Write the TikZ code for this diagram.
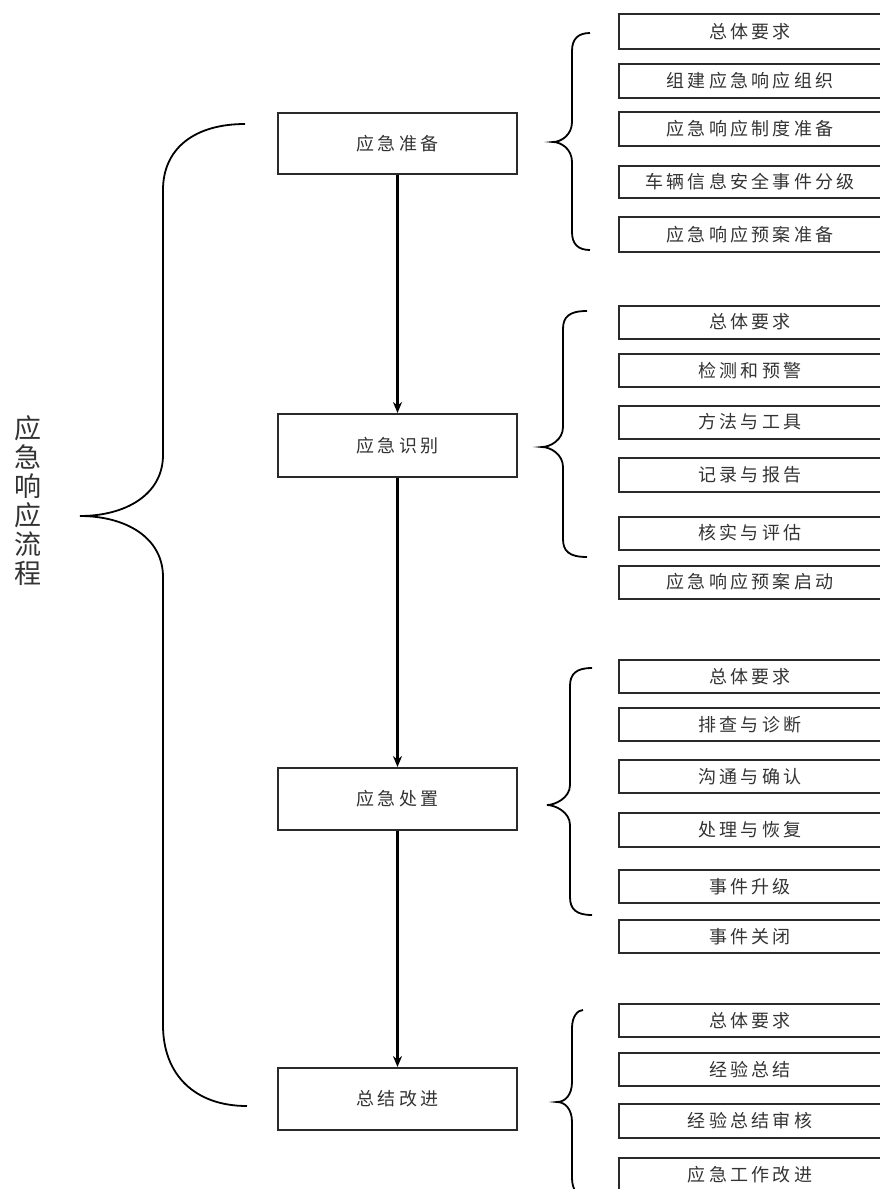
\documentclass[tikz,border=0pt]{standalone}
\usepackage{fontspec}
\usetikzlibrary{arrows.meta}
\newfontfamily\cjk[LetterSpace=18]{Noto Sans CJK SC}
\newfontfamily\cjkbig{Noto Sans CJK SC}
\definecolor{boxline}{HTML}{2A2A2A}
\definecolor{txt}{HTML}{333333}
% small brace: right x, spine x, tip x, top y, tip y, bottom y
\newcommand\mybrace[6]{%
  \draw[bracestyle] (#1,#4) .. controls ({#2+6},#4) and (#2,{#4+6}) .. (#2,{#4+18})
    -- (#2,{#5-20}) .. controls (#2,{#5-7}) and ({#3+8},#5) .. (#3,#5)
    .. controls ({#3+8},#5) and (#2,{#5+7}) .. (#2,{#5+20})
    -- (#2,{#6-18}) .. controls (#2,{#6-6}) and ({#2+6},#6) .. (#1,#6);}
\tikzset{
  x=1pt, y=-1pt,
  mainbox/.style={draw=boxline, line width=2pt, minimum width=239pt, minimum height=61pt,
    inner sep=0pt, font=\cjk\fontsize{18}{18}\selectfont, text=txt},
  subbox/.style={draw=boxline, line width=2pt, minimum width=262pt, minimum height=33pt,
    inner sep=0pt, font=\cjk\fontsize{18}{18}\selectfont, text=txt},
  bracestyle/.style={line width=1.8pt, black},
  flow/.style={line width=2.5pt, -{Stealth[length=11pt,width=9pt]}}
}
\begin{document}
\begin{tikzpicture}
\useasboundingbox (0,0) rectangle (879,1189);
% main boxes
\node[mainbox] (prep) at (397.5,143.5) {应急准备};
\node[mainbox, minimum height=63pt] (ident) at (397.5,445.5) {应急识别};
\node[mainbox, minimum height=62pt] (disp) at (397.5,799) {应急处置};
\node[mainbox, minimum height=62pt] (impr) at (397.5,1099) {总结改进};
\draw[flow] (prep.south) -- (ident.north);
\draw[flow] (ident.south) -- (disp.north);
\draw[flow] (disp.south) -- (impr.north);
% left label
\node[font=\cjkbig\fontsize{27}{29}\selectfont, text=txt, align=center, inner sep=0pt] (lbl) at (28,501)
  {应\\急\\响\\应\\流\\程};
% big brace
\draw[bracestyle] (245,124) .. controls (195,124) and (163,148) .. (163,190)
  -- (163,455) .. controls (163,495) and (125,516) .. (80,516)
  .. controls (125,516) and (163,537) .. (163,577)
  -- (163,1025) .. controls (163,1075) and (195,1106) .. (247,1106);
% group 1
\node[subbox, minimum height=35pt] (a1) at (750,31.5) {总体要求};
\node[subbox, minimum height=34pt] (a2) at (750,81) {组建应急响应组织};
\node[subbox, minimum height=34pt] (a3) at (750,129) {应急响应制度准备};
\node[subbox, minimum height=32pt] (a4) at (750,182) {车辆信息安全事件分级};
\node[subbox, minimum height=35pt] (a5) at (750,234.5) {应急响应预案准备};
\mybrace{590}{572}{553}{33}{142}{250}
% group 2
\node[subbox] (b1) at (750,322) {总体要求};
\node[subbox] (b2) at (750,370.5) {检测和预警};
\node[subbox] (b3) at (750,422) {方法与工具};
\node[subbox, minimum height=34pt] (b4) at (750,475) {记录与报告};
\node[subbox] (b5) at (750,533) {核实与评估};
\node[subbox] (b6) at (750,582) {应急响应预案启动};
\mybrace{587}{563}{542}{311}{447}{557}
% group 3
\node[subbox] (c1) at (750,676.5) {总体要求};
\node[subbox] (c2) at (750,724.5) {排查与诊断};
\node[subbox] (c3) at (750,776.5) {沟通与确认};
\node[subbox, minimum height=34pt] (c4) at (750,830) {处理与恢复};
\node[subbox] (c5) at (750,886.5) {事件升级};
\node[subbox] (c6) at (750,936.5) {事件关闭};
\mybrace{592}{570}{547}{668}{805}{915}
% group 4
\node[subbox] (d1) at (750,1020.5) {总体要求};
\node[subbox] (d2) at (750,1069.5) {经验总结};
\node[subbox, minimum height=34pt] (d3) at (750,1121) {经验总结审核};
\node[subbox, minimum height=34pt] (d4) at (750,1175) {应急工作改进};
\mybrace{583}{572}{557}{1010}{1102}{1196}
\end{tikzpicture}
\end{document}
